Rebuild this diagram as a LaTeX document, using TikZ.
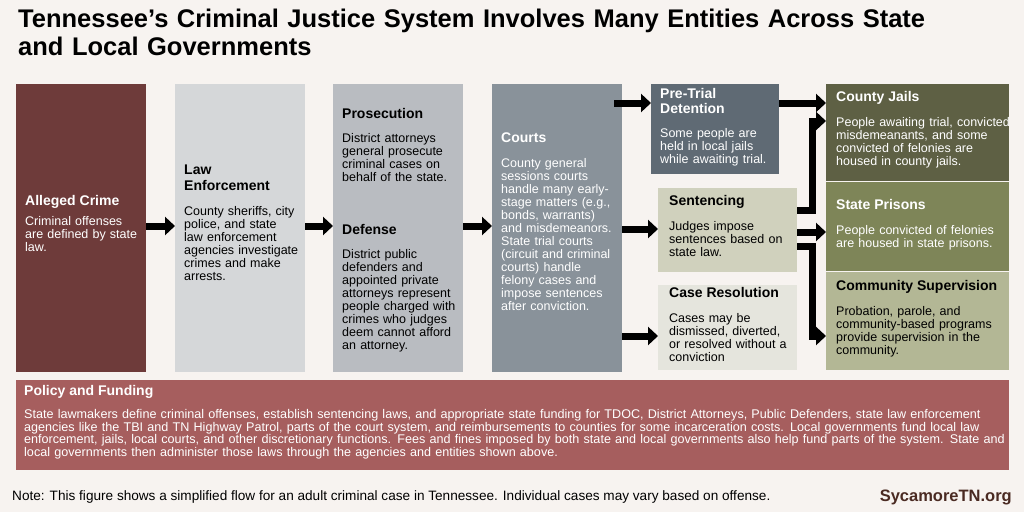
\documentclass[tikz,border=0pt]{standalone}
\usepackage{fontspec}
\setmainfont{Liberation Sans}
\usetikzlibrary{arrows.meta}
\hyphenpenalty=10000
\definecolor{bgc}{HTML}{F7F3F0}
\definecolor{crimec}{HTML}{6E3B3A}
\definecolor{lawc}{HTML}{D5D7D9}
\definecolor{prosc}{HTML}{B9BCC1}
\definecolor{courtc}{HTML}{89929A}
\definecolor{pretc}{HTML}{5F6A74}
\definecolor{sentc}{HTML}{D0D1BD}
\definecolor{casec}{HTML}{E5E5DD}
\definecolor{jailc}{HTML}{5E6044}
\definecolor{prisc}{HTML}{7E8558}
\definecolor{commc}{HTML}{B3B795}
\definecolor{polc}{HTML}{A65E5E}
\definecolor{brandc}{HTML}{4A2A22}
\tikzstyle{box} = [rectangle, anchor=north west, inner sep=0pt]
\tikzstyle{head} = [anchor=north west, inner sep=0pt, align=left, font=\fontsize{14}{15.5}\selectfont\bfseries]
\tikzstyle{body} = [anchor=north west, inner sep=0pt, align=left, font=\fontsize{12.5}{13}\selectfont]
\tikzstyle{arrow} = [line width=7pt, -{Triangle[length=10pt,width=18pt]}]

\begin{document}
\begin{tikzpicture}[x=1pt, y=-1pt]
\fill[bgc] (0,0) rectangle (1024,512);
\useasboundingbox (0,0) rectangle (1024,512);
\node[anchor=north west, inner sep=0pt, text width=1000pt, align=left, font=\fontsize{25.5}{28}\selectfont\bfseries] (title) at (18,9) {Tennessee's Criminal Justice System Involves Many Entities Across State\\and Local Governments};

% boxes
\node (crime) [box, fill=crimec, minimum width=130pt, minimum height=288pt] at (16,84) {};
\node (law) [box, fill=lawc, minimum width=130pt, minimum height=288pt] at (175,84) {};
\node (pros) [box, fill=prosc, minimum width=130pt, minimum height=288pt] at (333,84) {};
\node (courts) [box, fill=courtc, minimum width=130pt, minimum height=288pt] at (492,84) {};
\node (pretrial) [box, fill=pretc, minimum width=128pt, minimum height=90pt] at (651,84) {};
\node (sent) [box, fill=sentc, minimum width=139pt, minimum height=84pt] at (658,188) {};
\node (case) [box, fill=casec, minimum width=139pt, minimum height=85pt] at (658,285) {};
\node (jails) [box, fill=jailc, minimum width=183pt, minimum height=97pt] at (826,84) {};
\node (prisons) [box, fill=prisc, minimum width=183pt, minimum height=89pt] at (826,182) {};
\node (comm) [box, fill=commc, minimum width=183pt, minimum height=98pt] at (826,272) {};
\node (policy) [box, fill=polc, minimum width=993pt, minimum height=90pt] at (16,380) {};

% texts
\node[head, white] at (25,195) {Alleged Crime};
\node[body, white, text width=112pt] at (25,216) {Criminal offenses are defined by state law.};
\node[head, text width=118pt] at (184,165) {Law\\Enforcement};
\node[body, text width=115pt] at (184,206) {County sheriffs, city police, and state law enforcement agencies investigate crimes and make arrests.};
\node[head] at (342,108) {Prosecution};
\node[body, text width=115pt] at (342,133) {District attorneys general prosecute criminal cases on behalf of the state.};
\node[head] at (342,224) {Defense};
\node[body, text width=115pt] at (342,249) {District public defenders and appointed private attorneys represent people charged with crimes who judges deem cannot afford an attorney.};
\node[head, white] at (501,133) {Courts};
\node[body, white, text width=115pt] at (501,158) {County general sessions courts handle many early-stage matters (e.g., bonds, warrants) and misdemeanors. State trial courts (circuit and criminal courts) handle felony cases and impose sentences after conviction.};
\node[head, white] at (660,88) {Pre-Trial\\Detention};
\node[body, white, text width=112pt] at (660,128) {Some people are held in local jails while awaiting trial.};
\node[head] at (669,195) {Sentencing};
\node[body, text width=120pt] at (669,221) {Judges impose sentences based on state law.};
\node[head] at (669,287) {Case Resolution};
\node[body, text width=122pt] at (669,313) {Cases may be dismissed, diverted, or resolved without a conviction};
\node[head, white] at (836,91) {County Jails};
\node[body, white, text width=175pt] at (836,117) {People awaiting trial, convicted misdemeanants, and some convicted of felonies are housed in county jails.};
\node[head, white] at (836,199) {State Prisons};
\node[body, white, text width=172pt] at (836,225) {People convicted of felonies are housed in state prisons.};
\node[head] at (836,280) {Community Supervision};
\node[body, text width=172pt] at (836,306) {Probation, parole, and community-based programs provide supervision in the community.};
\node[head, white] at (24,385) {Policy and Funding};
\node[body, white, text width=985pt, font=\fontsize{12.6}{12.8}\selectfont] at (24,409) {State lawmakers define criminal offenses, establish sentencing laws, and appropriate state funding for TDOC, District Attorneys, Public Defenders, state law enforcement agencies like the TBI and TN Highway Patrol, parts of the court system, and reimbursements to counties for some incarceration costs. Local governments fund local law enforcement, jails, local courts, and other discretionary functions. Fees and fines imposed by both state and local governments also help fund parts of the system. State and local governments then administer those laws through the agencies and entities shown above.};
\node (note) [anchor=west, inner sep=0pt, font=\fontsize{13.6}{14}\selectfont] at (12,497) {Note: This figure shows a simplified flow for an adult criminal case in Tennessee. Individual cases may vary based on offense.};
\node (brand) [anchor=east, inner sep=0pt, text=brandc, font=\fontsize{16.5}{17}\selectfont\bfseries] at (1012,497) {SycamoreTN.org};

% connectors
\draw [arrow] (crime.east |- 0,226) -- (law.west |- 0,226);
\draw [arrow] (law.east |- 0,226) -- (pros.west |- 0,226);
\draw [arrow] (pros.east |- 0,226) -- (courts.west |- 0,226);
\draw [arrow] (courts.north east) ++(-8,19) -- (pretrial.west |- 0,103);
\draw [arrow] (courts.east |- 0,229) -- (sent.west |- 0,229);
\draw [arrow] (courts.east |- 0,336) -- (case.west |- 0,336);
\draw [arrow] (pretrial.east |- 0,103) -- (jails.west |- 0,103);
\draw [arrow] (sent.east |- 0,210) -| (812,121) -- (jails.west |- 0,121);
\draw [arrow] (sent.east |- 0,232) -- (prisons.west |- 0,232);
\draw [arrow] (sent.east |- 0,246) -| (812,336) -- (comm.west |- 0,336);
\end{tikzpicture}
\end{document}
